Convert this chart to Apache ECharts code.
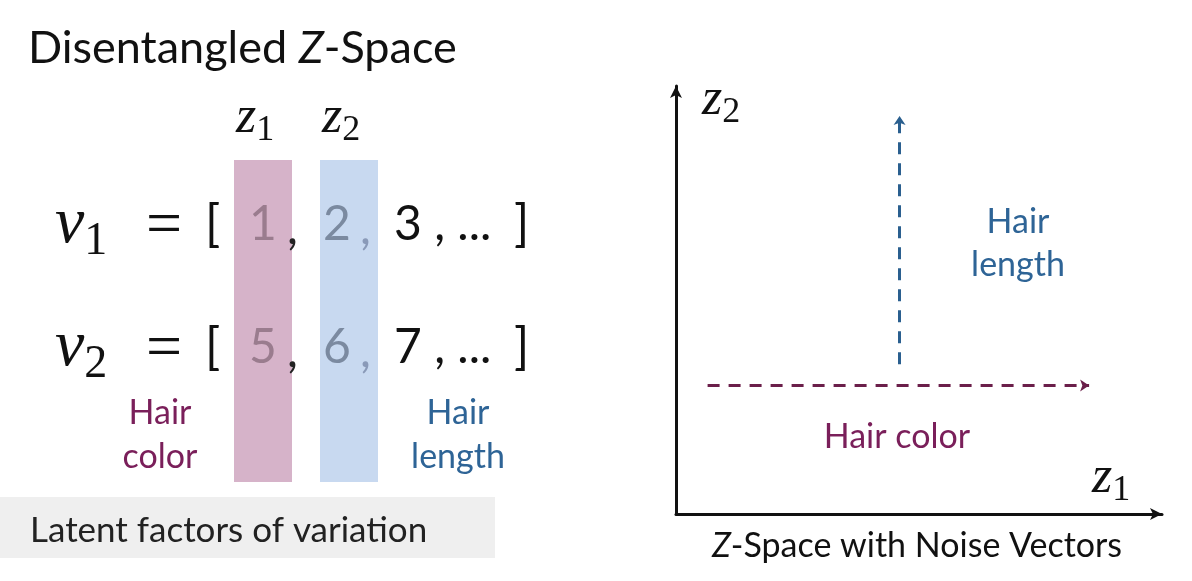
<!DOCTYPE html>
<html>
<head>
<meta charset="utf-8">
<script src="https://cdn.jsdelivr.net/npm/echarts@6/dist/echarts.min.js"></script>
<style>
  html, body { margin: 0; padding: 0; background: #fff; }
  #chart { width: 1192px; height: 581px; }
</style>
</head>
<body>
<div id="chart"></div>
<script>
// latent vectors on the left
const v1 = [1, 2, 3];
const v2 = [5, 6, 7];
// vectors in z-space: [x0, y0, x1, y1]
const hairColorVec = [0.65, 3.0, 8.5, 3.0];
const hairLengthVec = [4.6, 3.5, 4.6, 9.3];

const sans = 'Lato, "Open Sans", sans-serif';
const serif = '"Liberation Serif", "DejaVu Serif", serif';
const plum = '#7a1f5a';
const navy = '#2e6496';

const chart = echarts.init(document.getElementById('chart'));

function txtStyle(x, y, style) {
  return { type: 'text', x: x, y: y,
    style: Object.assign({ textAlign: 'left', textVerticalAlign: 'middle', fontFamily: sans }, style) };
}
function mathSub(x, y, v, sub, size, subSize) {
  return txtStyle(x, y, { text: '{v|' + v + '}{s|' + sub + '}', rich: {
    v: { fontFamily: serif, fontStyle: 'italic', fontSize: size, fill: '#111' },
    s: { fontFamily: serif, fontSize: subSize, fill: '#111', padding: [Math.round(size * 0.5), 0, 0, 0] } } });
}

function vecRow(name, sub, vals, y) {
  return [
    mathSub(55, y, name, sub, 66, 46),
    txtStyle(146, y + 2, { text: '=', fontFamily: serif, fontSize: 64, fill: '#111' }),
    txtStyle(205, y, { text: '[', fontSize: 50, fill: '#111' }),
    txtStyle(249, y, { text: String(vals[0]), fontSize: 48, fill: '#9a7c8e' }),
    txtStyle(287, y + 4, { text: ',', fontSize: 48, fill: '#222' }),
    txtStyle(323, y, { text: String(vals[1]), fontSize: 48, fill: '#7b8aa0' }),
    txtStyle(360, y + 4, { text: ',', fontSize: 48, fill: '#8a9ab8' }),
    txtStyle(394, y, { text: String(vals[2]) + ' , ...', fontSize: 48, fill: '#111' }),
    txtStyle(514, y, { text: ']', fontSize: 50, fill: '#111' })
  ];
}

const graphics = [
  txtStyle(28, 48, { text: 'Disentangled {i|Z}-Space', fontSize: 45, fill: '#111',
    rich: { i: { fontStyle: 'italic', fontSize: 45, fill: '#111', fontFamily: sans } } }),
  { type: 'rect', shape: { x: 234, y: 160, width: 58, height: 322 }, style: { fill: '#d6b3c9' }, z: -1 },
  { type: 'rect', shape: { x: 320, y: 160, width: 58, height: 322 }, style: { fill: '#c8d9f0' }, z: -1 },
  mathSub(236, 118, 'z', '1', 52, 36),
  mathSub(322, 118, 'z', '2', 52, 36)
].concat(vecRow('v', '1', v1, 225), vecRow('v', '2', v2, 348), [
  txtStyle(160, 413, { text: 'Hair', fontSize: 34, fill: plum, textAlign: 'center' }),
  txtStyle(160, 457, { text: 'color', fontSize: 34, fill: plum, textAlign: 'center' }),
  txtStyle(458, 413, { text: 'Hair', fontSize: 34, fill: navy, textAlign: 'center' }),
  txtStyle(458, 457, { text: 'length', fontSize: 34, fill: navy, textAlign: 'center' }),
  { type: 'rect', shape: { x: 0, y: 497, width: 495, height: 61 }, style: { fill: '#efefef' }, z: -1 },
  txtStyle(30, 531, { text: 'Latent factors of variation', fontSize: 35, fill: '#222' }),
  // right diagram labels
  txtStyle(1018, 222, { text: 'Hair', fontSize: 34, fill: navy, textAlign: 'center' }),
  txtStyle(1018, 265, { text: 'length', fontSize: 34, fill: navy, textAlign: 'center' }),
  txtStyle(897, 437, { text: 'Hair color', fontSize: 34, fill: plum, textAlign: 'center' }),
  mathSub(702, 100, 'z', '2', 52, 36),
  mathSub(1092, 478, 'z', '1', 52, 36),
  txtStyle(917, 546, { text: '{i|Z}-Space with Noise Vectors', fontSize: 34, fill: '#111', textAlign: 'center',
    rich: { i: { fontStyle: 'italic', fontSize: 34, fill: '#111', fontFamily: sans } } })
]);

const axisCommon = {
  type: 'value', min: 0, max: 10,
  axisLine: { show: true, symbol: ['none', 'arrow'], symbolSize: [9, 12],
              lineStyle: { color: '#111', width: 3 } },
  axisTick: { show: false }, axisLabel: { show: false }, splitLine: { show: false }
};

chart.setOption({
  animation: false,
  grid: { left: 676, right: 30, top: 86, bottom: 67 },
  xAxis: axisCommon,
  yAxis: axisCommon,
  graphic: graphics,
  series: [
    {
      type: 'lines', coordinateSystem: 'cartesian2d', symbol: ['none', 'arrow'], symbolSize: 9,
      lineStyle: { color: '#6b1f4a', width: 3, type: [12, 9], opacity: 1 },
      data: [{ coords: [[hairColorVec[0], hairColorVec[1]], [hairColorVec[2], hairColorVec[3]]] }]
    },
    {
      type: 'lines', coordinateSystem: 'cartesian2d', symbol: ['none', 'arrow'], symbolSize: 9,
      lineStyle: { color: '#2a5f8f', width: 3, type: [12, 9], opacity: 1 },
      data: [{ coords: [[hairLengthVec[0], hairLengthVec[1]], [hairLengthVec[2], hairLengthVec[3]]] }]
    }
  ]
});
</script>
</body>
</html>
